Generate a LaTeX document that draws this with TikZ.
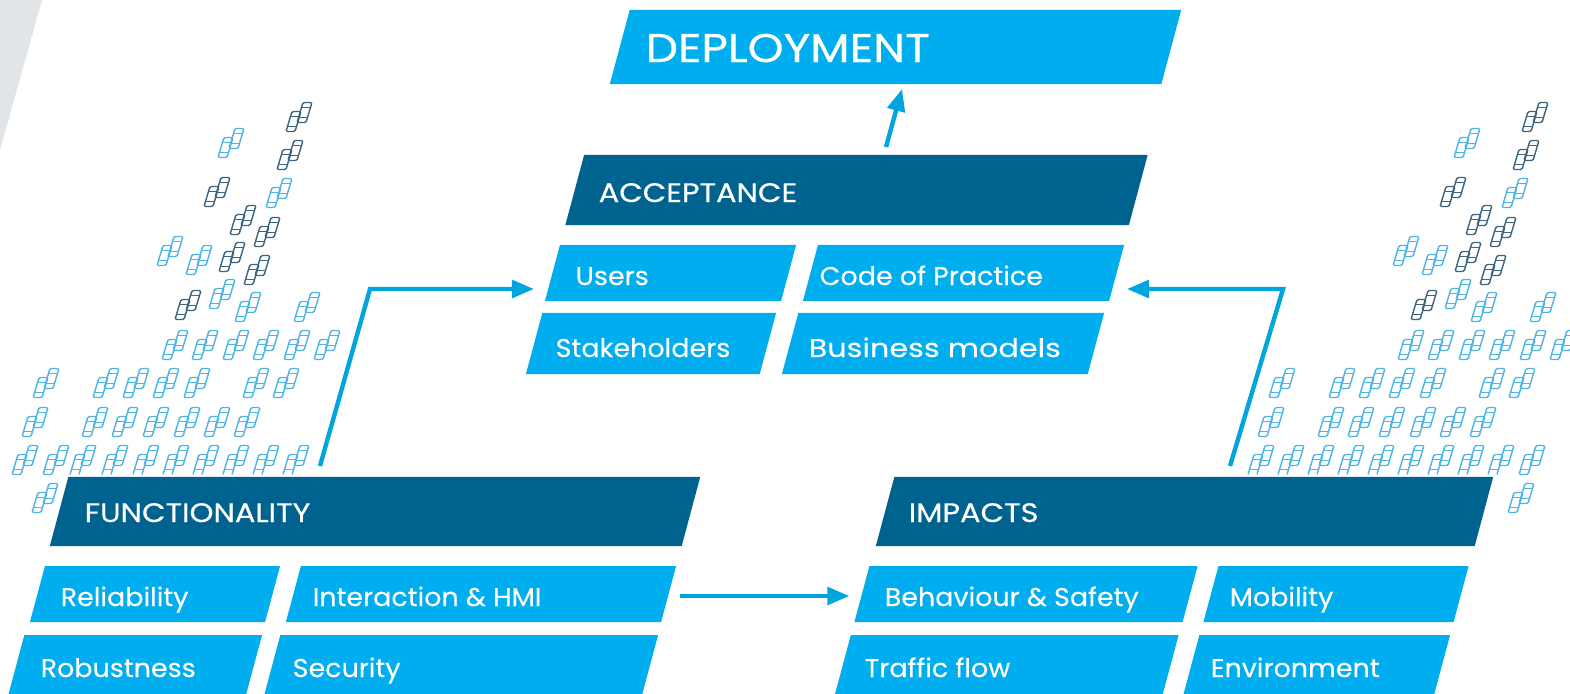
\documentclass[tikz,border=0pt]{standalone}
\usepackage{fontspec}
\setmainfont[FakeStretch=1.05, FakeBold=0.15]{Poppins}
\newfontfamily\headfont[FakeStretch=1.14, FakeBold=0.5]{Poppins}
\newfontfamily\widefont[FakeStretch=1.18, FakeBold=0.15]{Poppins}
\usetikzlibrary{arrows.meta}
\usetikzlibrary{calc}

\definecolor{skyblue}{HTML}{00ADEF}
\definecolor{deepblue}{HTML}{00628F}
\definecolor{arrowblue}{HTML}{00A5DF}
\definecolor{cornergrey}{HTML}{E1E5E8}
\definecolor{carlight}{HTML}{4DB4E6}
\definecolor{cardark}{HTML}{3E6580}

\tikzset{
    slantbox/.style={rectangle, inner sep=0pt, outer sep=0pt, draw=none,
        path picture={
            \fill[#1] let \p1=(path picture bounding box.south west), \p2=(path picture bounding box.north east),
                \n1={0.268*(\y2-\y1)} in
                (\x1,\y1) -- (\x2-\n1,\y1) -- (\x2,\y2) -- (\x1+\n1,\y2) -- cycle;
        }},
    lightbox/.style={slantbox=skyblue},
    darkbox/.style={slantbox=deepblue},
    boxlabel/.style={anchor=base west, inner sep=0pt, text=white, font=\fontsize{7.3}{9}\selectfont},
    headlabel/.style={boxlabel, font=\headfont\fontsize{7.6}{9}\selectfont},
    flowarrow/.style={draw=arrowblue, line width=1.25pt, -{Triangle[length=6.3pt, width=5pt]}},
    lightcars/.style={draw=carlight},
    darkcars/.style={draw=cardark},
    carbody/.pic={
        \draw[line width=0.4pt, rounded corners=0.4pt] (-7.5,10) -- (1.5,10) -- (7.5,-10) -- (-1.5,-10) -- cycle;
        \draw[line width=0.3pt] (-3,-5) -- (6,-5) (-6,5) -- (3,5);
    },
    carpair/.pic={
        \pic at (-5.5,4.5) {carbody};
        \pic at (5.5,-4.5) {carbody};
    },
    opencar/.pic={
        \draw[line width=0.4pt, rounded corners=0.4pt] (-7.5,10) -- (-1.5,-10) -- (7.5,-10) -- (1.5,10);
        \draw[line width=0.3pt] (-3,-5) -- (6,-5) (-6,5) -- (3,5);
    },
    carpairopen/.pic={
        \pic at (-5.5,4.5) {opencar};
        \pic at (5.5,-4.5) {carbody};
    }
}

\begin{document}
\begin{tikzpicture}[x=0.01cm, y=-0.01cm]
    \path[use as bounding box, clip] (0,0) rectangle (1570,693);

    % Corner
    \fill[cornergrey] (0,0) -- (42,0) -- (0,150) -- cycle;

    % Cars, left and right
    \foreach \xoff in {0,1236} {
        \begin{scope}[xshift=\xoff*0.01cm]
            \foreach \cx/\cy in {299/117, 290/155, 217/192, 243/220, 267/232, 232/257, 257/270, 188/305}
                \pic[darkcars] at (\cx,\cy) {carpair};
            \foreach \cx/\cy in {231/143, 279/193, 170/251, 199/260, 222/294, 248/307, 307/307,
                175/345, 205/345, 236/345, 266/345, 297/345, 327/345,
                46/383, 106/383, 136/383, 166/383, 197/383, 256/383, 286/383,
                35/422, 95/422, 125/422, 156/422, 187/422, 217/422, 247/422}
                \pic[lightcars] at (\cx,\cy) {carpair};
        \end{scope}
    }
    \foreach \cx in {83,115,146,176,206,236,266,296,1261,1291,1321,1351,1381,1411,1441,1471,1501}
        \pic[lightcars] at (\cx,460) {carpairopen};
    \foreach \cx/\cy in {25/460, 56/460, 1532/460, 45/498, 1521/498}
        \pic[lightcars] at (\cx,\cy) {carpair};

    % Top
    \node[lightbox, minimum width=5.71cm, minimum height=0.74cm] (deployment) at (895.5,47) {};
    \node[darkbox, minimum width=5.82cm, minimum height=0.70cm] (acceptance) at (856.5,190) {};
    \node[boxlabel, font=\headfont\fontsize{11.4}{13}\selectfont] (deploymenttext) at (645,62) {DEPLOYMENT};
    \node[headlabel] (acceptancetext) at (598,202) {ACCEPTANCE};

    % Acceptance boxes
    \node[lightbox, minimum width=2.51cm, minimum height=0.56cm] (users) at (670.5,273) {};
    \node[lightbox, minimum width=3.21cm, minimum height=0.56cm] (code) at (963.5,273) {};
    \node[lightbox, minimum width=2.50cm, minimum height=0.61cm] (stakeholders) at (651,343.5) {};
    \node[lightbox, minimum width=3.22cm, minimum height=0.61cm] (business) at (943,343.5) {};
    \node[boxlabel] (userstext) at (575,285) {Users};
    \node[boxlabel] (codetext) at (819,285) {Code of Practice};
    \node[boxlabel] (stakeholderstext) at (555,357) {Stakeholders};
    \node[boxlabel, font=\widefont\fontsize{7.3}{9}\selectfont] (businesstext) at (808,357) {Business models};

    % Functionality
    \node[darkbox, minimum width=6.50cm, minimum height=0.69cm] (functionality) at (375,511.5) {};
    \node[lightbox, minimum width=2.50cm, minimum height=0.56cm] (reliability) at (155,594) {};
    \node[lightbox, minimum width=3.90cm, minimum height=0.56cm] (interaction) at (481,594) {};
    \node[lightbox, minimum width=2.55cm, minimum height=0.65cm] (robustness) at (134.5,667.5) {};
    \node[lightbox, minimum width=3.95cm, minimum height=0.65cm] (security) at (460.5,667.5) {};
    \node[headlabel] (functionalitytext) at (84,522) {FUNCTIONALITY};
    \node[boxlabel] (reliabilitytext) at (60,606) {Reliability};
    \node[boxlabel] (interactiontext) at (312,606) {Interaction \& HMI};
    \node[boxlabel] (robustnesstext) at (40,677) {Robustness};
    \node[boxlabel] (securitytext) at (292,677) {Security};

    % Impacts
    \node[darkbox, minimum width=6.17cm, minimum height=0.69cm] (impacts) at (1184.5,511.5) {};
    \node[lightbox, minimum width=3.43cm, minimum height=0.56cm] (behaviour) at (1026,594) {};
    \node[lightbox, minimum width=2.65cm, minimum height=0.56cm] (mobility) at (1336,594) {};
    \node[lightbox, minimum width=3.45cm, minimum height=0.65cm] (traffic) at (1006,667.5) {};
    \node[lightbox, minimum width=2.68cm, minimum height=0.65cm] (environment) at (1316,667.5) {};
    \node[headlabel] (impactstext) at (908,522) {IMPACTS};
    \node[boxlabel] (behaviourtext) at (884,606) {Behaviour \& Safety};
    \node[boxlabel] (mobilitytext) at (1229,606) {Mobility};
    \node[boxlabel] (traffictext) at (864,677) {Traffic flow};
    \node[boxlabel] (environmenttext) at (1210,677) {Environment};

    % Arrows
    \coordinate (funcfoot) at (320,466);
    \coordinate (funcbend) at (370,289);
    \coordinate (usersin) at (534,289);
    \coordinate (impactfoot) at (1230,466);
    \coordinate (impactbend) at (1283,289);
    \coordinate (codein) at (1127,289);
    \coordinate (acceptfoot) at (886,147);
    \coordinate (deployin) at (902,89);
    \draw[flowarrow, line join=miter] (funcfoot) -- (funcbend) -- (usersin);
    \draw[flowarrow, line join=miter] (impactfoot) -- (impactbend) -- (codein);
    \draw[flowarrow] (acceptfoot) -- (deployin);
    \draw[flowarrow, shorten <=0.35mm, shorten >=0.5mm] ([yshift=-0.2mm]interaction.east) -- ([yshift=-0.2mm]behaviour.west);
\end{tikzpicture}
\end{document}
